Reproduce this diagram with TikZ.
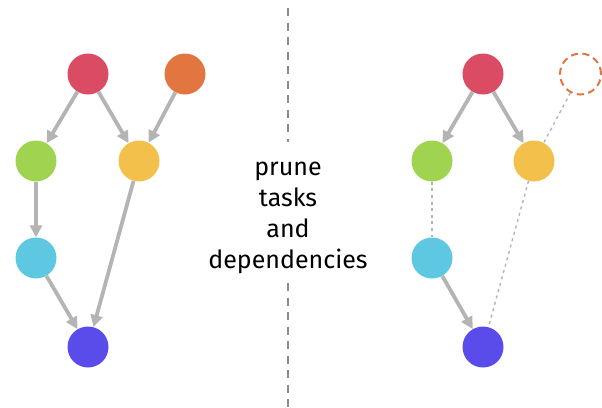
\documentclass[tikz,border=0pt]{standalone}
\usepackage{fontspec}
\setmainfont{Fira Sans}
\usetikzlibrary{arrows.meta}
\definecolor{tred}{HTML}{DC4B64}
\definecolor{torange}{HTML}{E27640}
\definecolor{tgreen}{HTML}{A0D450}
\definecolor{tyellow}{HTML}{F3C14B}
\definecolor{tcyan}{HTML}{5EC8E2}
\definecolor{tpurple}{HTML}{5A4BEB}
\definecolor{edgegray}{HTML}{B4B4B4}
\definecolor{splitgray}{HTML}{8A8A8A}
\tikzset{
  task/.style={circle, minimum size=41pt, inner sep=0pt, fill=#1},
  ghost/.style={circle, minimum size=41pt, inner sep=0pt, draw=torange, line width=2pt, dash pattern=on 7pt off 4.6pt},
  dep/.style={draw=edgegray, line width=3.8pt, -{Triangle[length=12pt,width=12pt]}},
  pruned/.style={draw=edgegray, line width=1.4pt, dash pattern=on 3pt off 3.6pt},
  divider/.style={draw=splitgray, line width=2pt, dash pattern=on 8pt off 6.5pt},
}
\begin{document}
\begin{tikzpicture}[x=1pt, y=-1pt]
  \useasboundingbox (0,0) rectangle (602,407);

  % task graph before pruning
  \node[task=tred]    (a1) at (88,74)  {};
  \node[task=torange] (b1) at (185,74) {};
  \node[task=tgreen]  (c1) at (36,161) {};
  \node[task=tyellow] (d1) at (139,161) {};
  \node[task=tcyan]   (e1) at (36,258) {};
  \node[task=tpurple] (f1) at (88,347) {};

  \draw[dep] (a1) -- (c1);
  \draw[dep] (a1) -- (d1);
  \draw[dep] (b1) -- (d1);
  \draw[dep] (c1) -- (e1);
  \draw[dep] (e1) -- (f1);
  \draw[dep] (d1) -- (f1);

  % divider with caption
  \coordinate (s1) at (288,8);
  \coordinate (s2) at (288,142);
  \coordinate (s3) at (288,283);
  \coordinate (s4) at (288,407);
  \draw[divider] (s1) -- (s2);
  \draw[divider] (s3) -- (s4);
  % base anchor sits on the last line
  \node[align=center, font=\fontsize{25}{31}\selectfont, inner sep=0pt, anchor=base]
    (caption) at (288,268) {prune\\tasks\\and\\dependencies};

  % task graph after pruning
  \node[task=tred]    (a2) at (483,74)  {};
  \node[ghost]        (b2) at (580.5,74) {};
  \node[task=tgreen]  (c2) at (432,161) {};
  \node[task=tyellow] (d2) at (534,161) {};
  \node[task=tcyan]   (e2) at (432,258) {};
  \node[task=tpurple] (f2) at (483,347) {};

  \draw[dep] (a2) -- (c2);
  \draw[dep] (a2) -- (d2);
  \draw[dep] (e2) -- (f2);
  \draw[pruned] (b2) -- (d2);
  \draw[pruned] (c2) -- (e2);
  \draw[pruned] (d2) -- (f2);
\end{tikzpicture}
\end{document}
